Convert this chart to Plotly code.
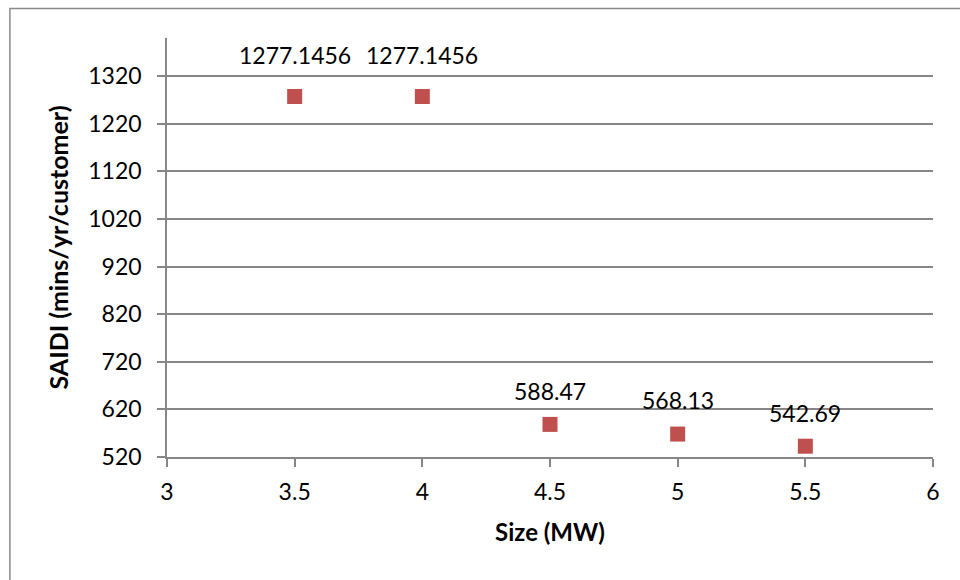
import plotly.graph_objects as go

# Storage size (MW) vs. reliability index
size_mw = [3.5, 4.0, 4.5, 5.0, 5.5]
saidi = [1277.1456, 1277.1456, 588.47, 568.13, 542.69]
point_labels = ["1277.1456", "1277.1456", "588.47", "568.13", "542.69"]

x_ticks = [3, 3.5, 4, 4.5, 5, 5.5, 6]
x_tick_text = ["3", "3.5", "4", "4.5", "5", "5.5", "6"]
y_ticks = [520, 620, 720, 820, 920, 1020, 1120, 1220, 1320]
y_tick_text = ["520", "620", "720", "820", "920", "1020", "1120", "1220", "1320"]

# vertical offset (px) of each value label above its marker
label_shift = [42, 42, 33, 34, 33]

FONT = "Lato, 'Open Sans', sans-serif"
GRID = "#868686"
RED = "#C0504D"

fig = go.Figure()
fig.add_trace(go.Scatter(
    x=size_mw, y=saidi, mode="markers",
    marker=dict(symbol="square", size=15, color=RED, line=dict(width=0)),
    hoverinfo="x+y", showlegend=False,
))

for xv, yv, txt, dy in zip(size_mw, saidi, point_labels, label_shift):
    fig.add_annotation(
        x=xv, y=yv, text=txt, showarrow=False,
        xanchor="center", yanchor="middle", yshift=dy,
        font=dict(family=FONT, size=23, color="#000000"),
    )

# outer chart frame (top and left edges visible)
fig.add_shape(
    type="rect", xref="paper", yref="paper",
    x0=-0.2051, x1=1.2, y0=-0.5, y1=1.0705,
    line=dict(color="#8a8a8a", width=1.5), fillcolor="rgba(0,0,0,0)",
    layer="below",
)

fig.update_layout(
    width=960, height=580,
    margin=dict(l=167, r=27, t=38, b=123),
    paper_bgcolor="#ffffff", plot_bgcolor="#ffffff",
    font=dict(family=FONT, size=22, color="#000000"),
    xaxis=dict(
        range=[3, 6], tickvals=x_ticks, ticktext=x_tick_text,
        showgrid=False, zeroline=False,
        showline=True, linecolor=GRID, linewidth=1.5,
        ticks="outside", ticklen=8, tickcolor=GRID, tickwidth=1.5,
        tickfont=dict(family=FONT, size=23), ticklabelstandoff=6,
        title=dict(text="<b>Size (MW)</b>", font=dict(family=FONT, size=24), standoff=20),
    ),
    yaxis=dict(
        range=[520, 1400], tickvals=y_ticks, ticktext=y_tick_text,
        showgrid=True, gridcolor=GRID, gridwidth=1.5, zeroline=False,
        showline=True, linecolor=GRID, linewidth=1.5,
        ticks="outside", ticklen=8, tickcolor=GRID, tickwidth=1.5,
        tickfont=dict(family=FONT, size=23), ticklabelstandoff=11,
        title=dict(text="<b>SAIDI (mins/yr/customer)</b>", font=dict(family=FONT, size=25), standoff=13),
    ),
)

fig.write_html("out.html")
